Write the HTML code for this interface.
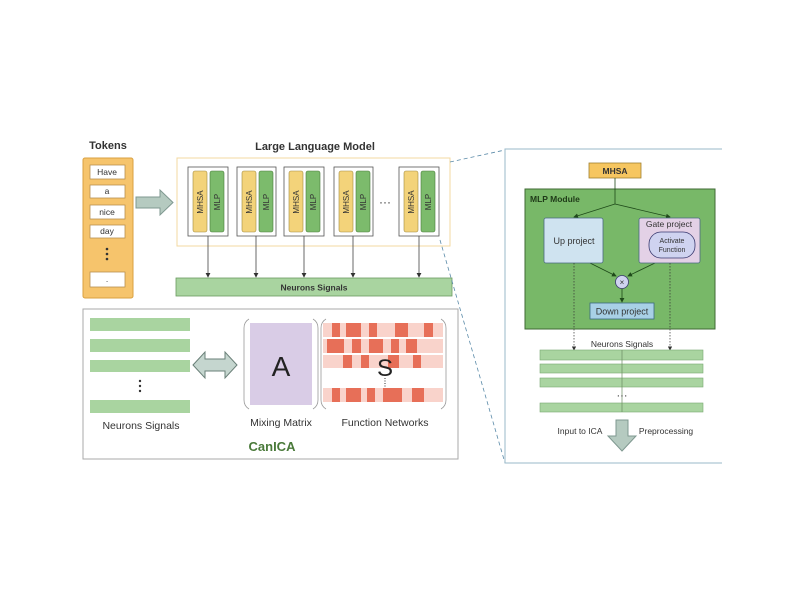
<!DOCTYPE html>
<html><head><meta charset="utf-8"><style>body{margin:0;background:#fff}svg{display:block}text{font-family:"Liberation Sans",sans-serif}</style></head><body>
<svg width="800" height="600" viewBox="0 0 800 600" xmlns="http://www.w3.org/2000/svg">
<defs><marker id="ar" markerWidth="6" markerHeight="6" refX="5" refY="3" orient="auto"><path d="M0,0 L6,3 L0,6z" fill="#333"/></marker>
<marker id="ag" markerWidth="6" markerHeight="6" refX="5" refY="3" orient="auto"><path d="M0,0 L6,3 L0,6z" fill="#1f4a1a"/></marker></defs>
<!-- Tokens -->
<text x="108" y="149" font-size="11" font-weight="bold" text-anchor="middle" fill="#333">Tokens</text>
<rect x="83" y="158" width="50" height="140" rx="2" fill="#f6c46c" stroke="#d9a040"/>
<g fill="#fff" stroke="#b89050" stroke-width="0.8">
<rect x="90" y="165" width="35" height="14"/><rect x="90" y="185" width="35" height="13"/><rect x="90" y="205" width="35" height="14"/><rect x="90" y="225" width="35" height="13"/><rect x="90" y="272" width="35" height="15"/></g>
<g font-size="8.5" text-anchor="middle" fill="#333"><text x="107" y="175">Have</text><text x="107" y="194">a</text><text x="107" y="215">nice</text><text x="107" y="234">day</text><text x="107" y="282">.</text></g>
<g fill="#333"><circle cx="107" cy="249" r="1.3"/><circle cx="107" cy="254" r="1.3"/><circle cx="107" cy="259" r="1.3"/></g>
<path d="M136,197 L160,197 L160,190 L173,202.5 L160,215 L160,208 L136,208z" fill="#b5cac0" stroke="#7f9890"/>
<!-- LLM -->
<text x="315" y="150" font-size="11" font-weight="bold" text-anchor="middle" fill="#333">Large Language Model</text>
<rect x="177" y="158" width="273" height="88" fill="none" stroke="#f3d9a0"/>
<g stroke="#555" stroke-width="0.8">
<rect x="188" y="167" width="40" height="69" fill="#fff"/><rect x="237" y="167" width="39" height="69" fill="#fff"/><rect x="284" y="167" width="40" height="69" fill="#fff"/><rect x="334" y="167" width="39" height="69" fill="#fff"/><rect x="399" y="167" width="40" height="69" fill="#fff"/></g>
<g stroke="#a08a40" stroke-width="0.6" fill="#f3d37a">
<rect x="193" y="171" width="14" height="61" rx="2"/><rect x="242" y="171" width="14" height="61" rx="2"/><rect x="289" y="171" width="14" height="61" rx="2"/><rect x="339" y="171" width="14" height="61" rx="2"/><rect x="404" y="171" width="14" height="61" rx="2"/></g>
<g stroke="#4a7a3a" stroke-width="0.6" fill="#7cbb6c">
<rect x="210" y="171" width="14" height="61" rx="2"/><rect x="259" y="171" width="14" height="61" rx="2"/><rect x="306" y="171" width="14" height="61" rx="2"/><rect x="356" y="171" width="14" height="61" rx="2"/><rect x="421" y="171" width="14" height="61" rx="2"/></g>
<g font-size="8" fill="#333" text-anchor="middle">
<text transform="translate(203,202) rotate(-90)">MHSA</text><text transform="translate(220,202) rotate(-90)">MLP</text>
<text transform="translate(252,202) rotate(-90)">MHSA</text><text transform="translate(269,202) rotate(-90)">MLP</text>
<text transform="translate(299,202) rotate(-90)">MHSA</text><text transform="translate(316,202) rotate(-90)">MLP</text>
<text transform="translate(349,202) rotate(-90)">MHSA</text><text transform="translate(366,202) rotate(-90)">MLP</text>
<text transform="translate(414,202) rotate(-90)">MHSA</text><text transform="translate(431,202) rotate(-90)">MLP</text></g>
<text x="385" y="206" font-size="12" text-anchor="middle" fill="#333">···</text>
<g stroke="#444" stroke-width="0.8" marker-end="url(#ar)">
<line x1="208" y1="236" x2="208" y2="277"/><line x1="256" y1="236" x2="256" y2="277"/><line x1="304" y1="236" x2="304" y2="277"/><line x1="353" y1="236" x2="353" y2="277"/><line x1="419" y1="236" x2="419" y2="277"/></g>
<rect x="176" y="278" width="276" height="18" fill="#a9d4a0" stroke="#6a9a60" stroke-width="0.8"/>
<text x="314" y="290.5" font-size="8.5" font-weight="bold" text-anchor="middle" fill="#333">Neurons Signals</text>
<!-- dashed -->
<g stroke="#5a8aa8" stroke-width="0.8" stroke-dasharray="4,3" fill="none">
<line x1="450" y1="162" x2="505" y2="150"/><line x1="440" y1="240" x2="505" y2="463"/></g>
<!-- CanICA -->
<rect x="83" y="309" width="375" height="150" fill="#fff" stroke="#aaa"/>
<g fill="#a9d4a0"><rect x="90" y="318" width="100" height="13"/><rect x="90" y="339" width="100" height="13"/><rect x="90" y="360" width="100" height="12"/><rect x="90" y="400" width="100" height="13"/></g>
<g fill="#333"><circle cx="140" cy="381" r="1.2"/><circle cx="140" cy="386" r="1.2"/><circle cx="140" cy="391" r="1.2"/></g>
<text x="141" y="429" font-size="10.5" text-anchor="middle" fill="#333">Neurons Signals</text>
<path d="M193,365 L205,352 L205,359 L225,359 L225,352 L237,365 L225,378 L225,371 L205,371 L205,378z" fill="#c5d6cf" stroke="#6a8078"/>
<rect x="250" y="323" width="62" height="82" fill="#d9cce6"/>
<g stroke="#999" fill="none" stroke-width="0.8"><path d="M249,319 Q244,322 244,328 L244,400 Q244,406 249,409"/><path d="M313,319 Q318,322 318,328 L318,400 Q318,406 313,409"/><path d="M326,319 Q321,322 321,328 L321,400 Q321,406 326,409"/><path d="M441,319 Q446,322 446,328 L446,400 Q446,406 441,409"/></g>
<text x="281" y="376" font-size="28" text-anchor="middle" fill="#222">A</text>
<text x="281" y="426" font-size="10.5" text-anchor="middle" fill="#333">Mixing Matrix</text>
<g fill="#f9d3cb"><rect x="323" y="323" width="120" height="14"/><rect x="323" y="339" width="120" height="14"/><rect x="323" y="355" width="120" height="13"/><rect x="323" y="388" width="120" height="14"/></g>
<g fill="#e76f58">
<rect x="332" y="323" width="8" height="14"/><rect x="346" y="323" width="15" height="14"/><rect x="369" y="323" width="8" height="14"/><rect x="395" y="323" width="13" height="14"/><rect x="424" y="323" width="9" height="14"/>
<rect x="327" y="339" width="17" height="14"/><rect x="352" y="339" width="9" height="14"/><rect x="369" y="339" width="14" height="14"/><rect x="391" y="339" width="8" height="14"/><rect x="406" y="339" width="11" height="14"/>
<rect x="343" y="355" width="9" height="13"/><rect x="361" y="355" width="8" height="13"/><rect x="388" y="355" width="11" height="13"/><rect x="413" y="355" width="8" height="13"/>
<rect x="332" y="388" width="8" height="14"/><rect x="346" y="388" width="15" height="14"/><rect x="367" y="388" width="8" height="14"/><rect x="383" y="388" width="19" height="14"/><rect x="412" y="388" width="12" height="14"/></g>
<text x="385" y="376" font-size="24" text-anchor="middle" fill="#222">S</text>
<line x1="385" y1="378" x2="385" y2="387" stroke="#333" stroke-dasharray="1,1.5"/>
<text x="385" y="426" font-size="10.5" text-anchor="middle" fill="#333">Function Networks</text>
<text x="272" y="451" font-size="13" font-weight="bold" text-anchor="middle" fill="#4a7a3a">CanICA</text>
<!-- right panel -->
<path d="M722,149 L505,149 L505,463 L722,463" fill="none" stroke="#9ab8c8"/>
<rect x="589" y="163" width="52" height="15" fill="#f6c660" stroke="#a08030" stroke-width="0.8"/>
<text x="615" y="174" font-size="8.5" font-weight="bold" text-anchor="middle" fill="#333">MHSA</text>
<rect x="525" y="189" width="190" height="140" fill="#78b868" stroke="#3f6a35"/>
<line x1="615" y1="178" x2="615" y2="204" stroke="#1f4a1a" stroke-width="0.8"/>
<g stroke="#1f4a1a" stroke-width="0.8" marker-end="url(#ag)" fill="none">
<line x1="615" y1="204" x2="574" y2="217"/><line x1="615" y1="204" x2="670" y2="217"/>
<line x1="590" y1="263" x2="616" y2="276"/><line x1="655" y1="263" x2="628" y2="276"/><line x1="622" y1="289" x2="622" y2="302"/></g>
<text x="530" y="202" font-size="8.5" font-weight="bold" fill="#1f3a18">MLP Module</text>
<rect x="544" y="218" width="59" height="45" rx="2" fill="#cfe3f0" stroke="#4a6a80" stroke-width="0.8"/>
<text x="574" y="244" font-size="9" text-anchor="middle" fill="#333">Up project</text>
<rect x="639" y="218" width="61" height="45" rx="2" fill="#e3d1e6" stroke="#4a6a80" stroke-width="0.8"/>
<text x="669" y="227" font-size="8.5" text-anchor="middle" fill="#333">Gate project</text>
<rect x="649" y="232" width="46" height="26" rx="12" fill="#cfd3f0" stroke="#3a3a70" stroke-width="0.8"/>
<text x="672" y="243" font-size="7" text-anchor="middle" fill="#333">Activate</text><text x="672" y="252" font-size="7" text-anchor="middle" fill="#333">Function</text>
<circle cx="622" cy="282" r="6.5" fill="#cfd3f0" stroke="#3a3a70" stroke-width="0.8"/>
<text x="622" y="285" font-size="8" text-anchor="middle" fill="#333">×</text>
<rect x="590" y="303" width="64" height="16" fill="#a8d0e6" stroke="#3a6a80" stroke-width="0.8"/>
<text x="622" y="314.5" font-size="9" text-anchor="middle" fill="#333">Down project</text>
<g stroke="#333" stroke-width="0.7" stroke-dasharray="1.5,1.5" marker-end="url(#ar)"><line x1="574" y1="263" x2="574" y2="350"/><line x1="670" y1="263" x2="670" y2="350"/></g>
<text x="622" y="347" font-size="8.5" text-anchor="middle" fill="#333">Neurons Signals</text>
<g fill="#a9d4a0" stroke="#7aa870" stroke-width="0.6"><rect x="540" y="350" width="163" height="10"/><rect x="540" y="364" width="163" height="9"/><rect x="540" y="378" width="163" height="9"/><rect x="540" y="403" width="163" height="9"/></g>
<line x1="622" y1="350" x2="622" y2="412" stroke="#6a8a60" stroke-width="0.7"/>
<text x="622" y="399" font-size="11" text-anchor="middle" fill="#333">···</text>
<text x="580" y="434" font-size="8.5" text-anchor="middle" fill="#333">Input to ICA</text>
<text x="666" y="434" font-size="8.5" text-anchor="middle" fill="#333">Preprocessing</text>
<path d="M616,420 L628,420 L628,436 L636,436 L622,451 L608,436 L616,436z" fill="#b5cac0" stroke="#7f9890"/>
</svg>
</body></html>
